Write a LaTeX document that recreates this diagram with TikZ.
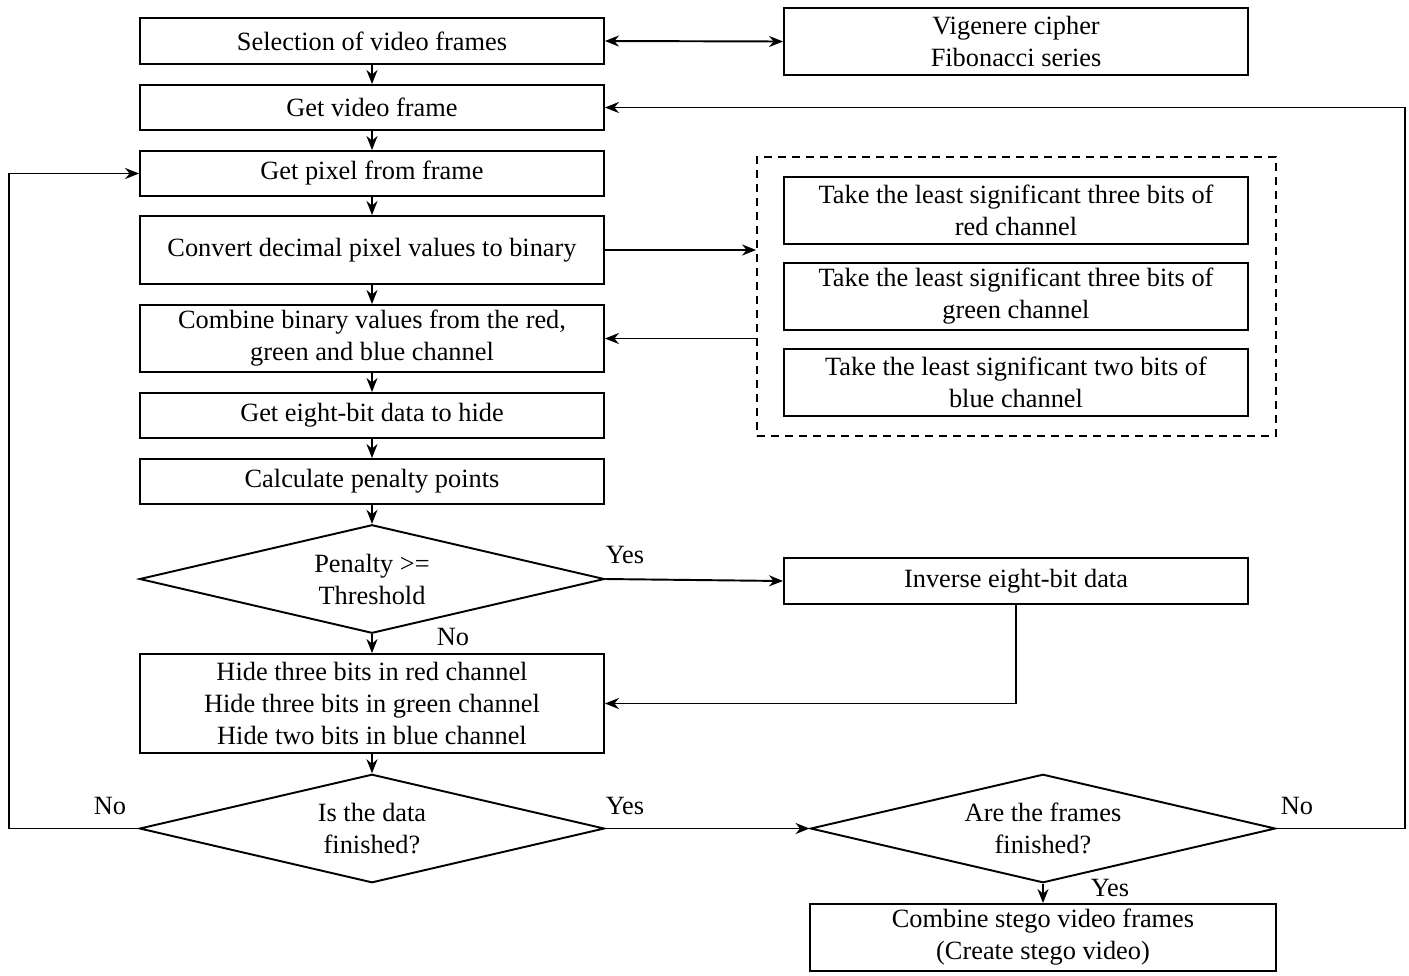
\documentclass[tikz,border=0pt]{standalone}
\usepackage{fontspec}
\setmainfont{Liberation Serif}
\usetikzlibrary{arrows.meta,shapes.geometric}

\begin{document}
\begin{tikzpicture}[x=0.02cm, y=-0.02cm, line width=1.1pt,
		font=\fontsize{15}{18.2}\selectfont,
		box/.style={draw, rectangle, minimum width=9.28cm, align=center, inner sep=0pt},
		decision/.style={draw, diamond, aspect=4.3, minimum width=9.3cm, minimum height=2.17cm, align=center, inner sep=0pt},
		arr/.style={-{Stealth[length=0.28cm, width=0.22cm, inset=0.09cm]}}]
	\useasboundingbox (0,0) rectangle (1409,975);
	%
	% left column of steps
	\foreach \name/\y/\h/\txt in {sel/41/46/Selection of video frames, frame/107.5/45/Get video frame, pixel/173.5/45/Get pixel from frame, convert/250/68/Convert decimal pixel values to binary, combine/338.5/67/{Combine binary values from the red,\\ green and blue channel}, eight/415.5/45/Get eight-bit data to hide, penalty/481.5/45/Calculate penalty points, hide/703.5/99/{Hide three bits in red channel\\ Hide three bits in green channel\\ Hide two bits in blue channel}}{
		\node[box, minimum height=\h*0.02cm] (\name) at (372,\y) {\txt};
	}
	\node[decision] (threshold) at (372,579) {Penalty >=\\ Threshold};
	\node[decision] (data) at (372,828.5) {Is the data\\ finished?};
	%
	% right column
	\node[box, minimum height=1.34cm] (vig) at (1016,41.5) {Vigenere cipher\\ Fibonacci series};
	\node[draw, dashed, dash pattern=on 0.16cm off 0.12cm, minimum width=10.38cm, minimum height=5.58cm, inner sep=0pt] (group) at (1016.5,296.5) {};
	\foreach \name/\y/\txt in {lsbred/210.5/{Take the least significant three bits of\\ red channel}, lsbgreen/296.5/{Take the least significant three bits of\\ green channel}, lsbblue/382.5/{Take the least significant two bits of\\ blue channel}}{
		\node[box, minimum height=1.34cm] (\name) at (1016,\y) {\txt};
	}
	\node[box, minimum height=0.92cm] (inverse) at (1016,581) {Inverse eight-bit data};
	\node[decision] (frames) at (1043,828.5) {Are the frames\\ finished?};
	\node[box, minimum width=9.32cm, minimum height=1.34cm] (stego) at (1043,937.5) {Combine stego video frames\\ (Create stego video)};
	%
	% straight arrows down the flow
	\foreach \s/\t in {sel/frame, frame/pixel, pixel/convert, convert/combine, combine/eight, eight/penalty, penalty/threshold, threshold/hide, hide/data, frames/stego}{
		\draw[arr] (\s.south) -- (\t.north);
	}
	% sideways arrows
	\draw[{Stealth[length=0.28cm, width=0.22cm, inset=0.09cm]}-{Stealth[length=0.28cm, width=0.22cm, inset=0.09cm]}] (sel.east) -- (vig.west);
	\draw[arr] (convert.east) -- (convert.east -| group.west);
	\draw[arr] (group.west |- combine.east) -- (combine.east);
	\draw[arr] (threshold.east) -- (inverse.west);
	\draw[arr] (inverse.south) |- (hide.east);
	\draw[arr] (data.east) -- (frames.west);
	% loops back
	\draw[arr] (data.west) -- ++(-130,0) |- (pixel.west);
	\draw[arr] (frames.east) -- ++(129,0) |- (frame.east);
	% branch labels
	\node (yes1) at (625,555) {Yes};
	\node (no1) at (453,637) {No};
	\node (yes2) at (625,806) {Yes};
	\node (no2) at (110,806) {No};
	\node (no3) at (1297,806) {No};
	\node (yes3) at (1110,888) {Yes};
\end{tikzpicture}
\end{document}
